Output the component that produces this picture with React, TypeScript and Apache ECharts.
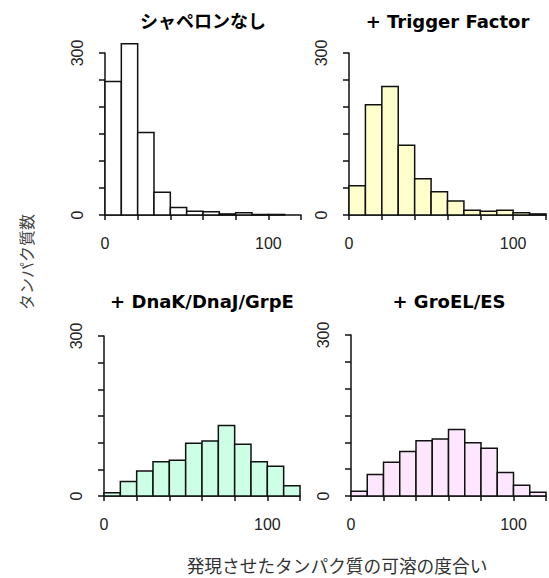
import React, { useEffect, useRef } from "react";
import * as echarts from "echarts";

const binEdges = [0, 10, 20, 30, 40, 50, 60, 70, 80, 90, 100, 110, 120];
const countsNone = [247, 317, 153, 42, 14, 7, 6, 2, 4, 1, 1];
const countsTF = [54, 204, 238, 129, 67, 43, 26, 9, 7, 9, 4, 2];
const countsDnaK = [6, 27, 47, 64, 67, 99, 103, 132, 97, 64, 56, 19];
const countsGroEL = [9, 40, 63, 83, 103, 106, 124, 99, 89, 44, 20, 7];

const panelTitles = ["シャペロンなし", "+ Trigger Factor", "+ DnaK/DnaJ/GrpE", "+ GroEL/ES"];
const panelFills = ["#FFFFFF", "#FFFFCC", "#CCFFE6", "#FFE6FF"];
const xLabelValues = [0, 100];
const yLabelValues = [0, 300];
const yAxisTitle = "タンパク質数";
const xAxisTitle = "発現させたタンパク質の可溶の度合い";

const grids = [
  { left: 105, top: 53, width: 196, height: 162 },
  { left: 349, top: 53, width: 197, height: 162 },
  { left: 104, top: 336, width: 196, height: 160 },
  { left: 351, top: 335, width: 196, height: 161 },
];

const LINE = "#111";
const LABEL_FONT = "'Liberation Sans', Arial, sans-serif";
const TITLE_FONT = "'DejaVu Sans', 'Noto Sans CJK JP', sans-serif";

function buildData(counts: number[]) {
  return counts.map((c, i) => [binEdges[i], binEdges[i + 1], c]);
}

export default function App() {
  const ref = useRef<HTMLDivElement>(null);
  useEffect(() => {
    if (!ref.current) return;
    const chart = echarts.init(ref.current, undefined, { renderer: "svg" });
    const allCounts = [countsNone, countsTF, countsDnaK, countsGroEL];

    const xAxes = grids.map((_, i) => ({
      type: "value",
      gridIndex: i,
      min: 0,
      max: 120,
      interval: 20,
      offset: 7,
      splitLine: { show: false },
      axisLine: { show: true, lineStyle: { color: LINE, width: 1.5 } },
      axisTick: { show: true, length: 5, lineStyle: { color: LINE, width: 1.5 } },
      axisLabel: {
        margin: 13,
        fontSize: 16,
        fontFamily: LABEL_FONT,
        color: "#222",
        showMaxLabel: true,
        formatter: (v: number) => (xLabelValues.includes(v) ? String(v) : ""),
      },
    }));
    const yAxes = grids.map((_, i) => ({
      type: "value",
      gridIndex: i,
      min: 0,
      max: 300,
      interval: 50,
      offset: 7,
      splitLine: { show: false },
      axisLine: { show: true, lineStyle: { color: LINE, width: 1.5 } },
      axisTick: { show: true, length: 6, lineStyle: { color: LINE, width: 1.5 } },
      axisLabel: {
        rotate: 90,
        margin: 13,
        fontSize: 16,
        fontFamily: LABEL_FONT,
        color: "#222",
        formatter: (v: number) => (yLabelValues.includes(v) ? String(v) : ""),
      },
    }));

    const series = allCounts.map((counts, i) => ({
      type: "custom",
      xAxisIndex: i,
      yAxisIndex: i,
      data: buildData(counts),
      encode: { x: [0, 1], y: 2 },
      renderItem: (params: any, api: any) => {
        const x0 = api.value(0);
        const x1 = api.value(1);
        const y = api.value(2);
        const p0 = api.coord([x0, y]);
        const p1 = api.coord([x1, 0]);
        return {
          type: "rect",
          shape: { x: p0[0], y: p0[1], width: p1[0] - p0[0], height: p1[1] - p0[1] },
          style: { fill: panelFills[i], stroke: LINE, lineWidth: 1.5 },
        };
      },
    }));

    const titleGraphics = grids.map((g, i) => ({
      type: "text",
      x: g.left + g.width / 2,
      y: i < 2 ? 21 : 301,
      style: {
        text: panelTitles[i],
        fontSize: 18,
        fontWeight: "bold",
        fontFamily: TITLE_FONT,
        fill: "#000",
        textAlign: "center",
        textVerticalAlign: "middle",
      },
    }));

    chart.setOption({
      animation: false,
      backgroundColor: "#fff",
      grid: grids.map((g) => ({ ...g, containLabel: false })),
      xAxis: xAxes,
      yAxis: yAxes,
      series,
      graphic: [
        ...titleGraphics,
        {
          type: "text",
          x: 26,
          y: 262,
          rotation: Math.PI / 2,
          style: {
            text: yAxisTitle,
            fontSize: 16,
            fontFamily: "'Noto Sans CJK JP', sans-serif",
            fill: "#444",
            textAlign: "center",
            textVerticalAlign: "middle",
          },
        },
        {
          type: "text",
          x: 337,
          y: 565,
          style: {
            text: xAxisTitle,
            fontSize: 17.7,
            fontFamily: "'Noto Sans CJK JP', sans-serif",
            fill: "#333",
            textAlign: "center",
            textVerticalAlign: "middle",
          },
        },
      ],
    });
    return () => chart.dispose();
  }, []);

  return (
    <div
      ref={ref}
      style={{ position: "absolute", left: 0, top: 0, width: 549, height: 578, background: "#fff" }}
    />
  );
}
